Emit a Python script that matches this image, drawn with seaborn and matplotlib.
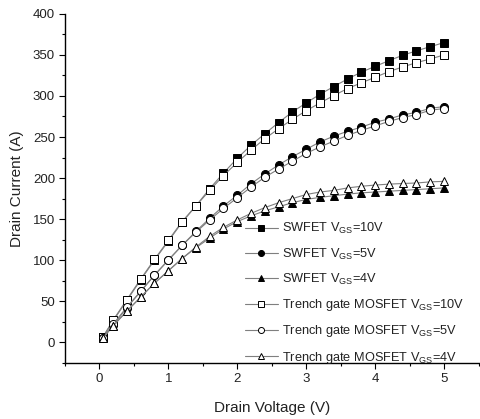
import numpy as np
import pandas as pd
import matplotlib
matplotlib.use("Agg")
import matplotlib.pyplot as plt
import seaborn as sns
from matplotlib.ticker import MultipleLocator

vds = [0.05, 0.2, 0.4, 0.6, 0.8, 1.0, 1.2, 1.4, 1.6, 1.8, 2.0, 2.2, 2.4, 2.6,
       2.8, 3.0, 3.2, 3.4, 3.6, 3.8, 4.0, 4.2, 4.4, 4.6, 4.8, 5.0]

swfet_10 = [6, 26, 51, 76, 100, 123, 146, 166, 187, 206, 224, 240, 254, 267.6,
            280.5, 291.5, 302, 311.4, 320.7, 329, 336, 343, 349.5, 355, 360, 365]
swfet_5 = [5, 21, 42, 62, 82, 100, 118, 135, 151, 166, 179, 193, 205, 216,
           226, 235, 244, 251, 257, 262, 268, 272, 277, 280, 285, 287]
swfet_4 = [5, 20, 38, 55, 72, 87, 102, 115, 127, 138, 147, 154, 160, 165,
           170, 174, 176.5, 178.5, 180.5, 182, 183, 184, 185, 186, 187, 188]
trench_10 = [6, 27, 52, 77, 101, 124, 147, 166, 185, 203, 219, 234, 248, 260,
             271.6, 282, 291.5, 300.5, 309, 316, 322.7, 329.7, 335.3, 340.6, 345, 350]
trench_5 = [5, 22, 43, 62, 81.5, 100, 118, 134, 149, 163, 176, 189, 201, 211,
            220.6, 230, 238, 245, 252, 258, 263.5, 269, 273.7, 277.4, 282.6, 284.7]
trench_4 = [5, 20, 38, 55, 72, 87, 102, 116, 129, 140, 149, 157, 164, 170,
            175, 180, 183, 185, 188, 190, 191.5, 192.6, 193.4, 194, 195.4, 196]

labels = [
    "SWFET V$_{\\mathregular{GS}}$=10V",
    "SWFET V$_{\\mathregular{GS}}$=5V",
    "SWFET V$_{\\mathregular{GS}}$=4V",
    "Trench gate MOSFET V$_{\\mathregular{GS}}$=10V",
    "Trench gate MOSFET V$_{\\mathregular{GS}}$=5V",
    "Trench gate MOSFET V$_{\\mathregular{GS}}$=4V",
]
series = [swfet_10, swfet_5, swfet_4, trench_10, trench_5, trench_4]
markers = ["s", "o", "^", "s", "o", "^"]
filled = [True, True, True, False, False, False]

sns.set_theme(style="white")
plt.rcParams['font.family'] = ['Liberation Sans', 'DejaVu Sans']
plt.rcParams['mathtext.fontset'] = 'custom'
plt.rcParams['mathtext.rm'] = 'Liberation Sans'

fig = plt.figure(figsize=(4.8, 4.19), dpi=100)
ax = fig.add_axes([0.135, 0.134, 0.862, 0.833])

order = [0, 3, 1, 4, 2, 5]
handles = {}
for i in order:
    df = pd.DataFrame({"x": vds, "y": series[i]})
    sns.lineplot(data=df, x="x", y="y", ax=ax, color="#7f7f7f", linewidth=0.8,
                 marker=markers[i], markersize=5.2 if markers[i] != "o" else 5.8,
                 markerfacecolor="black" if filled[i] else "white",
                 markeredgecolor="black", markeredgewidth=0.7,
                 label=labels[i], legend=False)
    handles[i] = ax.lines[-1]

ax.set_xlim(-0.5, 5.5)
ax.set_ylim(-25, 400)
ax.xaxis.set_major_locator(MultipleLocator(1))
ax.xaxis.set_minor_locator(MultipleLocator(0.5))
ax.yaxis.set_major_locator(MultipleLocator(50))
ax.yaxis.set_minor_locator(MultipleLocator(25))
ax.set_xticks([0, 1, 2, 3, 4, 5])
ax.tick_params(axis="both", which="major", direction="out", length=4, width=0.8,
               labelsize=9.5, color="black", labelcolor="#222222", pad=3,
               bottom=True, left=True)
ax.tick_params(axis="both", which="minor", direction="out", length=2, width=0.8,
               color="black", bottom=True, left=True)
for s in ["top", "right"]:
    ax.spines[s].set_visible(False)
for s in ["left", "bottom"]:
    ax.spines[s].set_color("black")
    ax.spines[s].set_linewidth(1.0)

ax.set_xlabel("Drain Voltage (V)", fontsize=11, color="#222222", labelpad=12)
ax.set_ylabel("Drain Current (A)", fontsize=11, color="#222222", labelpad=6)

leg = fig.legend([handles[i] for i in range(6)], labels, loc="lower left",
                 bbox_to_anchor=(233 / 480, 1 - 377 / 419), frameon=False,
                 fontsize=9.2, handlelength=2.6, handletextpad=0.35,
                 labelspacing=0.8, markerscale=0.75, borderpad=0.4)
for t in leg.get_texts():
    t.set_color("#222222")

fig.savefig("out.png", dpi=100)
